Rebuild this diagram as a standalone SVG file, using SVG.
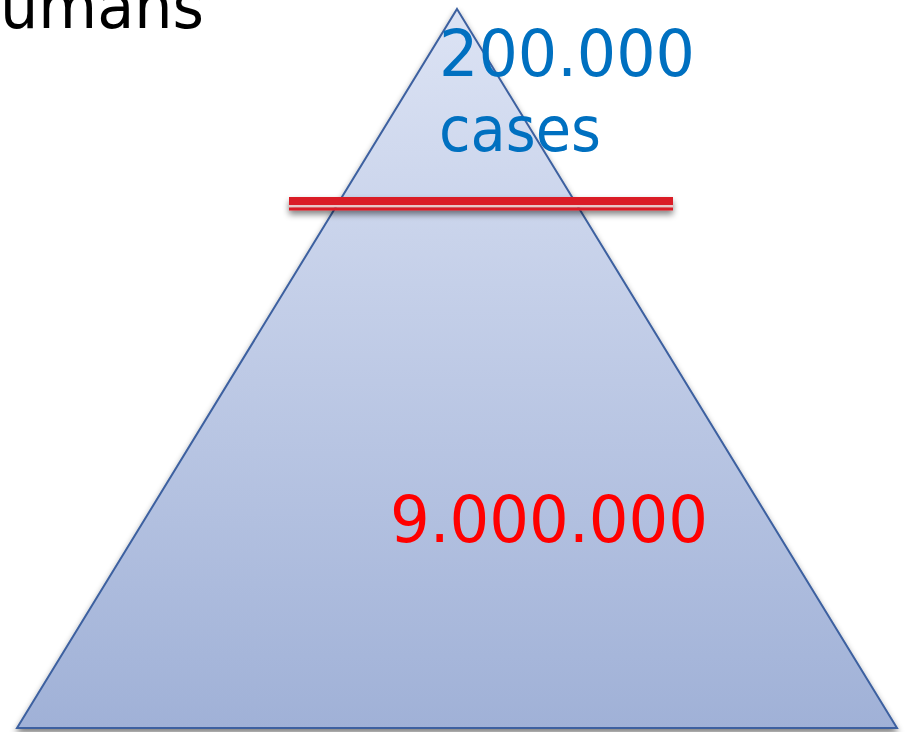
<svg xmlns="http://www.w3.org/2000/svg" width="905" height="732" viewBox="0 0 905 732">
<defs>
<linearGradient id="g" x1="0" y1="0" x2="0" y2="1">
<stop offset="0" stop-color="#DCE3F4"/>
<stop offset="1" stop-color="#A0B1D7"/>
</linearGradient>
<filter id="sh" x="-10%" y="-50%" width="120%" height="300%">
<feGaussianBlur in="SourceAlpha" stdDeviation="3"/>
<feOffset dy="4"/>
<feComponentTransfer><feFuncA type="linear" slope="0.5"/></feComponentTransfer>
<feMerge><feMergeNode/><feMergeNode in="SourceGraphic"/></feMerge>
</filter>
</defs>
<style>
.t{font-family:"DejaVu Sans","Liberation Sans",sans-serif;}
</style>
<rect width="905" height="732" fill="#fff"/>
<g id="pyramid">
<polygon points="457,9 897,728 17,728" fill="url(#g)" stroke="#3D61A0" stroke-width="2" filter="url(#sh)"/>
</g>
<g id="connectors">
<g id="redline" filter="url(#sh)">
<rect x="289" y="197" width="384" height="8" fill="#DA1F28"/>
<rect x="289" y="205" width="384" height="2.5" fill="#E8C8C8"/>
<rect x="289" y="207.5" width="384" height="3" fill="#DA1F28"/>
</g>
</g>
<g id="labels">
<text class="t" x="0" y="28" font-size="62" fill="#000" textLength="204" lengthAdjust="spacingAndGlyphs">umans</text>
<text class="t" x="439" y="76" font-size="64" fill="#0070C0" textLength="256" lengthAdjust="spacingAndGlyphs">200.000</text>
<text class="t" x="439" y="151" font-size="62" fill="#0070C0" textLength="162" lengthAdjust="spacingAndGlyphs">cases</text>
<text class="t" x="390" y="542" font-size="64" fill="#FF0000" textLength="318" lengthAdjust="spacingAndGlyphs">9.000.000</text>
</g>
</svg>
